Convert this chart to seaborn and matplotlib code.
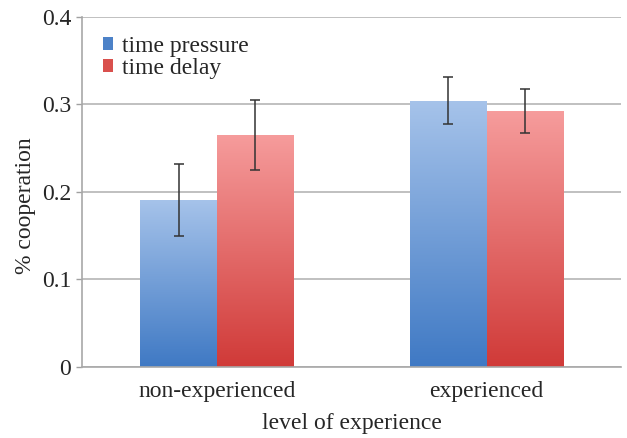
import numpy as np
import pandas as pd
import matplotlib
matplotlib.use("Agg")
import matplotlib.pyplot as plt
from matplotlib.colors import LinearSegmentedColormap
from matplotlib.patches import Patch
import seaborn as sns

# ── data ────────────────────────────────────────────────────────────────────
categories = ["non-experienced", "experienced"]
conditions = ["time pressure", "time delay"]
pressure_vals = [0.191, 0.304]
delay_vals = [0.265, 0.292]
pressure_err = [0.041, 0.027]
delay_err = [0.040, 0.025]
yticks = [0, 0.1, 0.2, 0.3, 0.4]
ytick_labels = ["0", "0.1", "0.2", "0.3", "0.4"]

df = pd.DataFrame({
    "experience": categories * 2,
    "condition": [conditions[0]] * 2 + [conditions[1]] * 2,
    "value": pressure_vals + delay_vals,
    "err": pressure_err + delay_err,
})

# gradient ends (top, bottom)
grads = {
    "time pressure": ("#a6c3ea", "#3f79c4"),
    "time delay": ("#f69c9c", "#d03a38"),
}
legend_cols = {"time pressure": "#4d82c8", "time delay": "#d9504d"}

sns.set_style("white")
plt.rcParams["font.family"] = ["Liberation Serif", "DejaVu Serif"]

fig = plt.figure(figsize=(6.27, 4.38), dpi=100)
ax = fig.add_axes([0.131, 0.162, 0.860, 0.800])

sns.barplot(data=df, x="experience", y="value", hue="condition",
            order=categories, hue_order=conditions,
            palette=legend_cols, width=0.57, errorbar=None, ax=ax,
            legend=False, linewidth=0, zorder=2)

# gradient fill clipped to each bar + error bars
for cont, cond in zip(ax.containers, conditions):
    top, bot = grads[cond]
    cmap = LinearSegmentedColormap.from_list(cond, [bot, top])
    sub = df[df["condition"] == cond].set_index("experience").loc[categories]
    for bar, (_, row) in zip(cont.patches, sub.iterrows()):
        x0, y0 = bar.get_x(), bar.get_y()
        w, h = bar.get_width(), bar.get_height()
        grad = np.linspace(0, 1, 256).reshape(-1, 1)
        im = ax.imshow(grad, cmap=cmap, aspect="auto", origin="lower",
                       extent=[x0, x0 + w, y0, y0 + h], zorder=2.5)
        im.set_clip_path(bar)
        bar.set_facecolor("none")
        ax.errorbar(x0 + w / 2, row["value"], yerr=row["err"], fmt="none",
                    ecolor="#333333", elinewidth=1.1, capsize=3.5,
                    capthick=1.1, zorder=4)
ax.set_xlim(-0.5, 1.5)
ax.set_ylim(0, 0.4)

ax.set_yticks(yticks)
ax.set_yticklabels(ytick_labels)
ax.yaxis.grid(True, color="#b5b5b5", linewidth=1.2, zorder=0)
ax.set_axisbelow(True)

# category separator tick on x axis
ax.set_xticks([0.5], minor=True)
ax.tick_params(axis="x", which="minor", length=5, color="#a0a0a0", width=1)
ax.tick_params(axis="x", which="major", length=0, labelsize=17, pad=10)
ax.tick_params(axis="y", length=4, color="#a0a0a0", width=1, labelsize=17,
               pad=4, left=True)

for side in ["top", "right"]:
    ax.spines[side].set_visible(False)
for side in ["left", "bottom"]:
    ax.spines[side].set_color("#a8a8a8")
    ax.spines[side].set_linewidth(1.2)

ax.set_xlabel("level of experience", fontsize=17)
ax.xaxis.set_label_coords(0.5, -0.132)
ax.set_ylabel("% cooperation", fontsize=17)
ax.yaxis.set_label_coords(-0.086, 0.46)

handles = [Patch(facecolor=legend_cols[c], edgecolor="none") for c in conditions]
ax.legend(handles, conditions, loc="upper left", bbox_to_anchor=(0.012, 0.985),
          frameon=False, fontsize=17, handlelength=0.45, handleheight=0.45,
          handletextpad=0.35, labelspacing=0.05, borderaxespad=0.2)

fig.savefig("out.png", dpi=100)
